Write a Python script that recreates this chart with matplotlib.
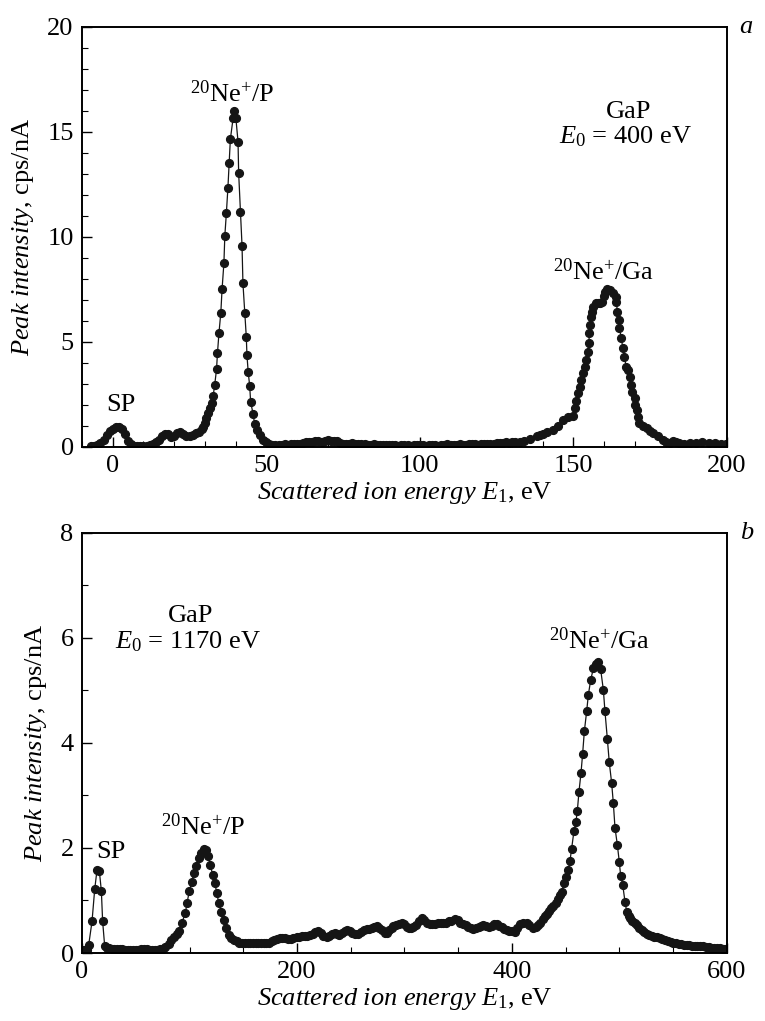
import matplotlib
matplotlib.use('Agg')
import matplotlib.pyplot as plt
from matplotlib.ticker import MultipleLocator

plt.rcParams['font.family'] = ['Liberation Serif', 'DejaVu Serif']
plt.rcParams['mathtext.fontset'] = 'custom'
plt.rcParams['mathtext.rm'] = 'Liberation Serif'
plt.rcParams['mathtext.it'] = 'Liberation Serif:italic'
plt.rcParams['mathtext.bf'] = 'Liberation Serif:bold'

# panel a: E0 = 400 eV
e_a = [-7, -6, -5, -4, -3, -2, -1, 0, 1, 2, 3, 4, 5, 6, 7, 8, 9, 10, 11, 12,
       13, 14, 15, 16, 17, 18, 19, 20, 21, 22, 23, 24, 25, 26, 27, 28, 29, 29.5, 30, 30.5,
       31, 31.6, 32.2, 32.7, 33.2, 33.8, 34.1, 34.6, 35.2, 35.6, 36.2, 36.5, 37.0, 37.5, 37.9, 38.3,
       39.2, 39.5, 40.1, 40.8, 41.0, 41.6, 42.1, 42.4, 43.0, 43.5, 43.7, 44.1, 44.6, 44.9,
       45.7, 46.2, 47, 48, 49, 50, 51, 52,
       53, 54, 55, 56, 57, 58, 59, 60, 61, 62, 63, 64, 65, 66, 67, 68, 69, 70, 71, 72,
       73, 74, 75, 76, 77, 78, 79, 80, 81, 82, 83, 84, 85, 86, 87, 88, 89, 90, 91, 92,
       93, 94, 95, 96, 97, 98, 99, 100, 101, 102, 103, 104, 105, 106, 107, 108, 109, 110, 111, 112,
       113, 114, 115, 116, 117, 118, 119, 120, 121, 122, 123, 124, 125, 126, 127, 128, 129, 130, 131,
       132.5, 134, 136, 138, 139, 140, 141.5, 143.4, 145, 146.6, 148.2, 149.8,
       150.4, 151.0, 151.5, 152.1, 152.6, 153.2, 153.7, 154.1, 154.6, 155.0, 155.2, 155.4, 155.6,
       156.0, 156.5, 157.4, 158.0, 158.7, 159.2, 159.8, 160.3, 161.0, 161.9, 163.0, 163.9,
       164.0, 164.3, 164.8, 165.0, 165.6, 166.1, 166.6, 167.2, 167.7, 168.3, 168.8, 169.2,
       169.9, 170.2, 170.7, 171.0, 171.4, 172.5, 173.8, 175, 176, 177.5, 179.2, 180,
       181.3, 182.4, 183.5, 184.5, 186, 188, 190, 192, 194, 196, 198, 199.6]
i_a = [0.05, 0.07, 0.1, 0.2, 0.35, 0.55, 0.75, 0.88, 0.95, 0.95, 0.85, 0.6, 0.3, 0.12, 0.05, 0.03, 0.03, 0.05, 0.07, 0.1,
       0.15, 0.22, 0.35, 0.5, 0.62, 0.6, 0.48, 0.5, 0.65, 0.72, 0.62, 0.5, 0.5, 0.58, 0.65, 0.72, 0.85, 0.97, 1.15, 1.37,
       1.6, 1.84, 2.1, 2.43, 2.95, 3.7, 4.46, 5.44, 6.4, 7.51, 8.75, 10.05, 11.13, 12.32, 13.5, 14.65,
       15.65, 16.0, 15.65, 14.54, 13.06, 11.2, 9.59, 7.79, 6.37, 5.22, 4.38, 3.59, 2.9, 2.16,
       1.57, 1.1, 0.8, 0.55, 0.35, 0.22, 0.15, 0.1,
       0.1, 0.08, 0.1, 0.12, 0.1, 0.12, 0.15, 0.12, 0.15, 0.2, 0.22, 0.25, 0.25, 0.3, 0.28, 0.25, 0.3, 0.32, 0.3, 0.28,
       0.3, 0.2, 0.15, 0.12, 0.15, 0.18, 0.15, 0.12, 0.15, 0.12, 0.1, 0.1, 0.12, 0.1, 0.08, 0.1, 0.1, 0.08, 0.1, 0.08,
       0.07, 0.08, 0.1, 0.08, 0.07, 0.08, 0.1, 0.1, 0.08, 0.07, 0.08, 0.1, 0.08, 0.07, 0.08, 0.1, 0.12, 0.1, 0.08, 0.1,
       0.12, 0.1, 0.1, 0.12, 0.14, 0.12, 0.1, 0.12, 0.15, 0.14, 0.12, 0.15, 0.18, 0.2, 0.2, 0.22, 0.2, 0.22, 0.24,
       0.25, 0.3, 0.38, 0.5, 0.57, 0.62, 0.7, 0.81, 1.0, 1.29, 1.45, 1.48,
       1.84, 2.19, 2.56, 2.87, 3.19, 3.51, 3.82, 4.14, 4.54, 4.94, 5.41, 5.81, 6.21,
       6.44, 6.68, 6.84, 6.86, 6.87, 6.92, 7.2, 7.4, 7.52, 7.48, 7.32, 7.16,
       6.92, 6.44, 6.05, 5.65, 5.17, 4.7, 4.27, 3.82, 3.67, 3.35, 2.95, 2.63,
       2.32, 2.0, 1.76, 1.44, 1.13, 1.0, 0.89, 0.75, 0.65, 0.5, 0.33, 0.25,
       0.2, 0.3, 0.25, 0.17, 0.15, 0.2, 0.2, 0.22, 0.2, 0.18, 0.15, 0.12]

# panel b: E0 = 1170 eV
e_b = [0, 2, 4.6, 6.2, 9.3, 11.8, 14.0, 16.1, 18.0, 19.2, 21.1,
       23, 25, 27.5, 30, 32.5, 35, 37.5, 40, 42.5, 45, 47.5, 50, 52.5, 55, 57.5, 60, 62.5, 65, 67.5,
       70, 72.5, 75, 77.5, 80.6, 83, 85.5, 88, 89.9, 93, 96.1, 97.7, 99.8, 102.3, 103.9, 106, 108.5,
       111, 113.5, 115.3, 117.2, 119.4, 121.5, 123.4, 125.6, 127.1, 129.6, 131.8, 134, 136.4, 138.5,
       141, 143.9, 146.5, 149, 151.5, 154, 156.5, 159, 161.5, 164, 166.5, 169, 171.5, 174, 176.5,
       179, 181.5, 184, 186.5, 189, 191.5, 194, 196.5, 199.7, 202, 204.5, 207, 209.5, 212, 214.5,
       217, 219.8, 222, 224.5, 227.6, 230, 232.5, 235, 237, 239.5, 242, 244.5, 246.2, 249, 251.5,
       254, 257, 259.5, 262, 264.8, 267, 269.5, 272, 274.1, 276.5, 279, 281.5, 283.4, 286, 288,
       289.6, 292, 294.5, 297.4, 300, 302, 304.5, 306, 308.3, 311, 313.5, 316, 318.5, 321, 323.7,
       326, 328.5, 331, 333.5, 336.1, 338.5, 341, 343.5, 347, 349.5, 352, 354.7, 357, 359.5, 362,
       364, 366.5, 369, 371.5, 373.3, 376, 378.5, 381, 383.5, 385.7, 388, 390.5, 393, 395, 397.5,
       400, 402.8, 405, 407.4, 410, 413.6, 416, 419.8, 422, 424, 426, 428.5, 430.5, 432.3, 434.5,
       436.5, 438.5, 441, 443.1, 444.7, 446.2, 448.4, 450.2, 452.3, 454, 455.5, 457.7, 459.5, 460.8,
       462.3, 464.2, 465.7, 467.3, 469.5, 471, 473.2, 475.7, 478.1, 480.3, 482.5, 485, 486.5, 488.7,
       490.5, 492.7, 494.3, 495.8, 498, 499.8, 501.1, 503, 505.1, 506.7, 508.5, 509.8, 512, 514, 516,
       518.5, 521, 523, 525.3, 527.5, 530, 532.5, 535, 537.7, 540, 542.5, 545, 547.5, 550, 552.5,
       555, 557.5, 560, 562.5, 565, 567.5, 570, 572.5, 575, 578, 580.5, 583, 585.5, 588, 590.5,
       593.5, 596, 598.5, 600]
i_b = [0.05, 0.05, 0.05, 0.15, 0.6, 1.21, 1.59, 1.57, 1.18, 0.6, 0.13,
       0.1, 0.09, 0.08, 0.08, 0.07, 0.07, 0.07, 0.06, 0.06, 0.06, 0.06, 0.06, 0.06, 0.07, 0.07, 0.07, 0.06, 0.06, 0.06,
       0.06, 0.07, 0.08, 0.12, 0.18, 0.24, 0.3, 0.36, 0.41, 0.58, 0.76, 0.95, 1.18, 1.36, 1.53, 1.66, 1.8,
       1.91, 1.99, 1.96, 1.85, 1.68, 1.49, 1.33, 1.14, 0.95, 0.79, 0.63, 0.47, 0.34, 0.28,
       0.24, 0.22, 0.2, 0.2, 0.2, 0.2, 0.2, 0.2, 0.19, 0.19, 0.2, 0.2, 0.2, 0.2, 0.22,
       0.25, 0.27, 0.28, 0.28, 0.28, 0.27, 0.27, 0.28, 0.3, 0.31, 0.33, 0.33, 0.33, 0.35, 0.36,
       0.4, 0.42, 0.38, 0.32, 0.3, 0.33, 0.36, 0.38, 0.37, 0.35, 0.38, 0.41, 0.43, 0.41, 0.39,
       0.37, 0.37, 0.4, 0.43, 0.45, 0.46, 0.48, 0.5, 0.51, 0.47, 0.43, 0.39, 0.38, 0.43, 0.48,
       0.51, 0.53, 0.56, 0.58, 0.55, 0.5, 0.48, 0.47, 0.49, 0.53, 0.6, 0.66, 0.62, 0.57, 0.55,
       0.55, 0.56, 0.57, 0.57, 0.58, 0.58, 0.6, 0.61, 0.64, 0.62, 0.58, 0.55, 0.53, 0.5, 0.47,
       0.45, 0.47, 0.5, 0.52, 0.53, 0.51, 0.5, 0.52, 0.55, 0.55, 0.52, 0.49, 0.45, 0.43, 0.42,
       0.42, 0.4, 0.48, 0.56, 0.58, 0.58, 0.53, 0.48, 0.5, 0.54, 0.58, 0.64, 0.7, 0.74, 0.8,
       0.85, 0.89, 0.95, 1.02, 1.1, 1.17, 1.33, 1.45, 1.58, 1.76, 1.99, 2.33, 2.5, 2.71,
       3.07, 3.43, 3.79, 4.22, 4.61, 4.91, 5.2, 5.42, 5.5, 5.55, 5.4, 5.01, 4.6, 4.08,
       3.63, 3.24, 2.85, 2.39, 2.06, 1.74, 1.47, 1.3, 0.98, 0.79, 0.7, 0.66, 0.61, 0.57, 0.53,
       0.48, 0.44, 0.4, 0.37, 0.35, 0.33, 0.31, 0.3, 0.28, 0.27, 0.25, 0.23, 0.21, 0.2, 0.19,
       0.18, 0.17, 0.16, 0.15, 0.15, 0.14, 0.14, 0.14, 0.13, 0.13, 0.12, 0.11, 0.1, 0.1, 0.09,
       0.09, 0.08, 0.08, 0.08]

fs = 19
fig = plt.figure(figsize=(7.65, 10.21), dpi=100)
ax1 = fig.add_axes([0.1072, 0.5622, 0.8431, 0.4114])
ax2 = fig.add_axes([0.1072, 0.0666, 0.8431, 0.4114])

for ax, e, i in [(ax1, e_a, i_a), (ax2, e_b, i_b)]:
    ax.plot(e, i, '-o', color='#151515', lw=0.9, ms=5.6, mec='#151515', mfc='#151515')
    ax.tick_params(which='both', direction='in', labelsize=fs, top=False, right=False)
    ax.tick_params(which='major', length=7, width=1, pad=6)
    ax.tick_params(which='minor', length=4, width=0.8)
    for s in ax.spines.values():
        s.set_linewidth(1.4)
    ax.set_xlabel(r'$Scattered\ ion\ energy\ E_1$, eV', fontsize=fs, labelpad=2)
    ax.set_ylabel(r'$Peak\ intensity$, cps/nA', fontsize=fs, labelpad=8)

ax1.set_xlim(-10, 200)
ax1.set_ylim(0, 20)
ax1.xaxis.set_major_locator(MultipleLocator(50))
ax1.xaxis.set_minor_locator(MultipleLocator(10))
ax1.yaxis.set_major_locator(MultipleLocator(5))
ax1.yaxis.set_minor_locator(MultipleLocator(1))

ax2.set_xlim(0, 600)
ax2.set_ylim(0, 8)
ax2.xaxis.set_major_locator(MultipleLocator(200))
ax2.xaxis.set_minor_locator(MultipleLocator(50))
ax2.yaxis.set_major_locator(MultipleLocator(2))
ax2.yaxis.set_minor_locator(MultipleLocator(1))

ax1.text(39, 16.45, r'$^{20}$Ne$^{+}$/P', fontsize=fs, ha='center', va='baseline')
ax1.text(2.6, 1.7, 'SP', fontsize=fs, ha='center', va='baseline')
ax1.text(168, 15.65, 'GaP', fontsize=fs, ha='center', va='baseline')
ax1.text(167, 14.45, r'$E_0$ = 400 eV', fontsize=fs, ha='center', va='baseline')
ax1.text(159.7, 7.95, r'$^{20}$Ne$^{+}$/Ga', fontsize=fs, ha='center', va='baseline')
ax1.text(1.03, 1.0, 'a', transform=ax1.transAxes, fontsize=fs, style='italic', ha='center', va='center')

ax2.text(101, 6.31, 'GaP', fontsize=fs, ha='center', va='baseline')
ax2.text(99, 5.8, r'$E_0$ = 1170 eV', fontsize=fs, ha='center', va='baseline')
ax2.text(112.8, 2.25, r'$^{20}$Ne$^{+}$/P', fontsize=fs, ha='center', va='baseline')
ax2.text(26.7, 1.8, 'SP', fontsize=fs, ha='center', va='baseline')
ax2.text(481, 5.8, r'$^{20}$Ne$^{+}$/Ga', fontsize=fs, ha='center', va='baseline')
ax2.text(1.03, 1.0, 'b', transform=ax2.transAxes, fontsize=fs, style='italic', ha='center', va='center')

fig.savefig('out.png', dpi=100)
